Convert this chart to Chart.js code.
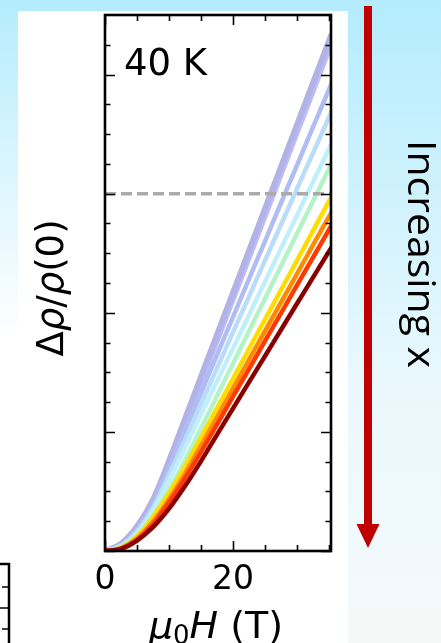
<!DOCTYPE html>
<html>
<head>
<meta charset="utf-8">
<script src="https://cdn.jsdelivr.net/npm/chart.js@4.4.1/dist/chart.umd.min.js"></script>
<style>
  html, body { margin: 0; padding: 0; background: #ffffff; overflow: hidden; }
  #wrap { width: 441px; height: 643px; position: relative; }
  canvas { display: block; }
</style>
</head>
<body>
<div id="wrap"><canvas id="mr" width="441" height="643" style="width:441px;height:643px"></canvas></div>
<script>
// Magnetic field (T)
const fieldT = [0, 2.5, 5, 7.5, 10, 12.5, 15, 17.5, 20, 22.5, 25, 27.5, 30, 32.5, 35.3];

// Magnetoresistance Δρ/ρ(0) at 40 K, one curve per composition (lowest x first)
const mrPurple    = [0, 0.24, 0.82, 1.72, 3.02, 4.43, 5.85, 7.26, 8.67, 10.08, 11.49, 12.90, 14.31, 15.72, 17.30];
const mrLavender  = [0, 0.22, 0.76, 1.62, 2.86, 4.23, 5.63, 7.03, 8.43, 9.83, 11.23, 12.63, 14.03, 15.43, 17.00];
const mrPeriwinkle= [0, 0.20, 0.72, 1.55, 2.78, 4.04, 5.31, 6.59, 7.86, 9.14, 10.41, 11.69, 12.96, 14.24, 15.66];
const mrLightBlue = [0, 0.18, 0.66, 1.45, 2.56, 3.73, 4.94, 6.14, 7.35, 8.55, 9.76, 10.96, 12.17, 13.37, 14.72];
const mrPaleCyan  = [0, 0.16, 0.60, 1.34, 2.37, 3.46, 4.58, 5.70, 6.81, 7.93, 9.05, 10.17, 11.28, 12.40, 13.65];
const mrPaleGreen = [0, 0.13, 0.52, 1.18, 2.05, 3.05, 4.12, 5.21, 6.30, 7.39, 8.48, 9.57, 10.66, 11.75, 12.97];
const mrYellow    = [0, 0.11, 0.48, 1.14, 1.94, 2.84, 3.81, 4.80, 5.79, 6.79, 7.78, 8.77, 9.76, 10.76, 11.87];
const mrOrange    = [0, 0.09, 0.42, 0.99, 1.74, 2.60, 3.54, 4.50, 5.46, 6.43, 7.39, 8.35, 9.31, 10.28, 11.35];
const mrRedOrange = [0, 0.08, 0.38, 0.90, 1.63, 2.45, 3.33, 4.25, 5.19, 6.12, 7.06, 7.99, 8.93, 9.86, 10.91];
const mrDarkRed   = [0, 0.07, 0.35, 0.80, 1.42, 2.18, 3.02, 3.91, 4.79, 5.67, 6.55, 7.43, 8.31, 9.19, 10.17];

// Reference level marked by the dashed line
const refLevel = 12;

// Axis ticks
const xMajorTicks = [0, 20];
const xMinorTicks = [5, 10, 15, 25, 30, 35];
const xTickLabels = ['0', '20'];
const yMajorTicks = [0, 4, 8, 12, 16];
const yMinorTicks = [1, 2, 3, 5, 6, 7, 9, 10, 11, 13, 14, 15, 17];

const curves = [
  { data: mrDarkRed,    color: '#8a0000', width: 4.5 },
  { data: mrRedOrange,  color: '#ff3a00', width: 4.5 },
  { data: mrOrange,     color: '#ff8a00', width: 4.5 },
  { data: mrYellow,     color: '#ffdd00', width: 4.5 },
  { data: mrPaleGreen,  color: '#b4f2c8', width: 4.5 },
  { data: mrPaleCyan,   color: '#bff0fa', width: 4.5 },
  { data: mrLightBlue,  color: '#b8dcf9', width: 4.5 },
  { data: mrPeriwinkle, color: '#b0bcf4', width: 4.5 },
  { data: mrLavender,   color: 'rgba(178,178,238,0.85)', width: 5 },
  { data: mrPurple,     color: 'rgba(145,145,215,0.7)', width: 6 }
];

const FONT = '"DejaVu Sans", "Liberation Sans", sans-serif';

const datasets = [{
  data: [{ x: 0, y: refLevel }, { x: 35.3, y: refLevel }],
  borderColor: '#ababab',
  borderWidth: 3.5,
  borderDash: [11, 5],
  pointRadius: 0,
  order: 0
}].concat(curves.map((c, i) => ({
  data: fieldT.map((h, k) => ({ x: h, y: c.data[k] })),
  borderColor: c.color,
  borderWidth: c.width,
  pointRadius: 0,
  cubicInterpolationMode: 'monotone',
  borderCapStyle: 'round',
  borderJoinStyle: 'round',
  order: i + 1
})));

function drawRuns(ctx, parts, x, y) {
  for (const p of parts) {
    ctx.font = p.font;
    ctx.fillText(p.text, x, y + (p.dy || 0));
    x += ctx.measureText(p.text).width;
  }
}
function runsWidth(ctx, parts) {
  let w = 0;
  for (const p of parts) { ctx.font = p.font; w += ctx.measureText(p.text).width; }
  return w;
}

const decor = {
  id: 'decor',
  beforeDraw(chart) {
    const ctx = chart.ctx;
    const W = chart.width, H = chart.height;
    ctx.save();
    // sky-blue backdrop
    ctx.fillStyle = '#b4ecfd';
    ctx.fillRect(0, 0, W, H);
    const gl = ctx.createLinearGradient(0, 0, 0, 340);
    gl.addColorStop(0, '#b4ecfd');
    gl.addColorStop(0.6, '#e2f7fe');
    gl.addColorStop(1, '#ffffff');
    ctx.fillStyle = gl;
    ctx.fillRect(0, 11, 18, H);
    const gr = ctx.createLinearGradient(0, 0, 0, H);
    gr.addColorStop(0, '#b4ecfd');
    gr.addColorStop(0.2, '#c6f0fd');
    gr.addColorStop(0.6, '#eaf8fd');
    gr.addColorStop(1, '#f5fafc');
    ctx.fillStyle = gr;
    ctx.fillRect(348, 0, W - 348, H);
    ctx.fillStyle = '#f6f7f7';
    ctx.fillRect(349, 607, W - 349, H - 607);
    // white panel
    ctx.fillStyle = '#ffffff';
    ctx.fillRect(18, 11, 330, H - 11);
    ctx.fillRect(0, 340, 18, H - 340);

    // edge of the neighbouring panel
    ctx.strokeStyle = '#000';
    ctx.lineWidth = 2.5;
    ctx.beginPath();
    ctx.moveTo(0, 564); ctx.lineTo(9, 564); ctx.lineTo(9, H);
    ctx.stroke();
    ctx.lineWidth = 1.5;
    ctx.beginPath();
    ctx.moveTo(9, 587); ctx.lineTo(2, 587);
    ctx.moveTo(9, 608); ctx.lineTo(0, 608);
    ctx.moveTo(9, 629); ctx.lineTo(2, 629);
    ctx.stroke();
    ctx.restore();
  },
  afterDatasetsDraw(chart) {
    const ctx = chart.ctx;
    const a = chart.chartArea;
    const xs = chart.scales.x, ys = chart.scales.y;
    ctx.save();

    // inward ticks on all four sides
    ctx.strokeStyle = '#000';
    ctx.lineWidth = 1.6;
    ctx.beginPath();
    const xt = (v, len) => {
      const px = Math.round(xs.getPixelForValue(v)) + 0.5;
      ctx.moveTo(px, a.bottom); ctx.lineTo(px, a.bottom - len);
      ctx.moveTo(px, a.top); ctx.lineTo(px, a.top + len);
    };
    const yt = (v, len) => {
      const py = Math.round(ys.getPixelForValue(v)) + 0.5;
      ctx.moveTo(a.left, py); ctx.lineTo(a.left + len, py);
      ctx.moveTo(a.right, py); ctx.lineTo(a.right - len, py);
    };
    xMajorTicks.forEach(v => xt(v, 10));
    xMinorTicks.forEach(v => xt(v, 6));
    yMajorTicks.forEach(v => yt(v, 10));
    yMinorTicks.forEach(v => yt(v, 5.5));
    ctx.stroke();

    // frame
    ctx.lineWidth = 2.6;
    ctx.strokeRect(a.left, a.top, a.right - a.left, a.bottom - a.top);

    // tick labels
    ctx.fillStyle = '#000';
    ctx.font = '33px ' + FONT;
    ctx.textAlign = 'center';
    ctx.textBaseline = 'alphabetic';
    xMajorTicks.forEach((v, i) => {
      ctx.fillText(xTickLabels[i], xs.getPixelForValue(v), 589);
    });

    // temperature tag
    ctx.textAlign = 'left';
    ctx.font = '37px ' + FONT;
    ctx.fillText('40 K', 124, 75);

    // x axis title: μ0H (T)
    const xTitle = [
      { text: 'μ', font: 'italic 38px ' + FONT },
      { text: '0', font: '26px ' + FONT, dy: 6 },
      { text: 'H', font: 'italic 38px ' + FONT },
      { text: ' (T)', font: '38px ' + FONT }
    ];
    const xw = runsWidth(ctx, xTitle);
    drawRuns(ctx, xTitle, 216 - xw / 2, 638);

    // y axis title: Δρ/ρ(0)
    const yTitle = [
      { text: 'Δ', font: '37px ' + FONT },
      { text: 'ρ', font: 'italic 37px ' + FONT },
      { text: '/', font: '37px ' + FONT },
      { text: 'ρ', font: 'italic 37px ' + FONT },
      { text: '(0)', font: '37px ' + FONT }
    ];
    const yw = runsWidth(ctx, yTitle);
    ctx.save();
    ctx.translate(63, 288);
    ctx.rotate(-Math.PI / 2);
    drawRuns(ctx, yTitle, -yw / 2, 0);
    ctx.restore();

    // red arrow
    ctx.fillStyle = '#c00000';
    ctx.fillRect(364, 6, 8, 520);
    ctx.beginPath();
    ctx.moveTo(356.5, 524);
    ctx.lineTo(379.5, 524);
    ctx.lineTo(368, 548);
    ctx.closePath();
    ctx.fill();

    // arrow caption
    ctx.fillStyle = '#000';
    ctx.font = '38px "Open Sans", "Liberation Sans", sans-serif';
    const cap = 'Increasing x';
    const cw = ctx.measureText(cap).width;
    ctx.save();
    ctx.translate(408, 254);
    ctx.rotate(Math.PI / 2);
    ctx.scale(228 / cw, 1);
    ctx.textAlign = 'center';
    ctx.fillText(cap, 0, 0);
    ctx.restore();

    ctx.restore();
  }
};

new Chart(document.getElementById('mr'), {
  type: 'line',
  data: { datasets },
  options: {
    responsive: false,
    animation: false,
    layout: { padding: { left: 105, right: 110, top: 15, bottom: 92 } },
    plugins: { legend: { display: false }, tooltip: { enabled: false } },
    scales: {
      x: { type: 'linear', min: 0, max: 35.3, display: false },
      y: { type: 'linear', min: 0, max: 18, display: false }
    }
  },
  plugins: [decor]
});
</script>
</body>
</html>
